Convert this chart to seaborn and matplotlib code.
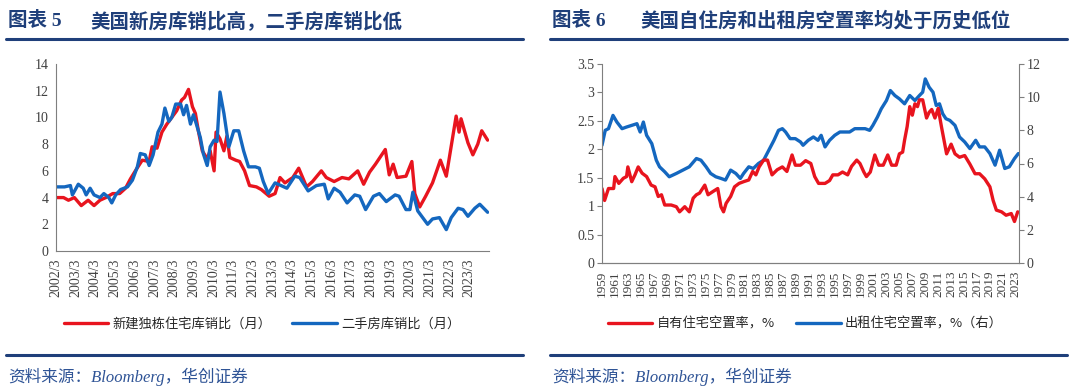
import matplotlib
matplotlib.use('Agg')
import matplotlib.pyplot as plt
import seaborn as sns
from matplotlib.lines import Line2D

# ---- left chart: months of supply (decimal year, value) ----
new_home_t = [2002.17, 2002.55, 2002.8, 2003.1, 2003.45, 2003.8, 2004.1, 2004.4, 2004.7, 2005.05,
              2005.4, 2005.7, 2005.95, 2006.2, 2006.55, 2006.9, 2007.05, 2007.3, 2007.55, 2007.8,
              2008.05, 2008.3, 2008.55, 2008.7, 2008.9, 2009.1, 2009.25, 2009.4, 2009.6, 2009.85,
              2010.0, 2010.2, 2010.3, 2010.5, 2010.7, 2010.85, 2011.0, 2011.3, 2011.5, 2011.75,
              2012.0, 2012.35, 2012.6, 2013.0, 2013.3, 2013.55, 2013.8, 2014.2, 2014.5, 2014.9,
              2015.2, 2015.65, 2015.9, 2016.3, 2016.7, 2017.05, 2017.5, 2017.8, 2018.1, 2018.4,
              2018.9, 2019.1, 2019.3, 2019.5, 2019.95, 2020.25, 2020.4, 2020.65, 2020.95, 2021.3,
              2021.7, 2022.0, 2022.3, 2022.5, 2022.65, 2022.75, 2023.1, 2023.35, 2023.6, 2023.8,
              2024.1]
new_home_v = [4.0, 4.0, 3.8, 4.0, 3.4, 3.8, 3.4, 3.8, 4.0, 4.3,
              4.3, 4.7, 5.4, 6.0, 6.8, 6.7, 7.8, 7.7, 8.9, 9.5,
              10.0, 10.5, 11.3, 11.5, 12.1, 10.8, 10.3, 9.0, 7.5, 6.9,
              7.5, 6.0, 8.9, 8.4, 7.5, 8.6, 7.0, 6.8, 6.7, 6.0,
              4.9, 4.8, 4.6, 4.1, 4.3, 5.5, 5.1, 5.5, 6.2, 4.8,
              5.2, 6.0, 5.5, 5.2, 5.5, 5.4, 6.0, 5.0, 5.9, 6.5,
              7.6, 5.7, 6.5, 5.5, 5.6, 6.7, 4.3, 3.3, 4.1, 5.1,
              6.8, 5.6, 8.3, 10.1, 8.9, 9.9, 8.1, 7.2, 8.0, 9.0,
              8.3]

existing_t = [2002.17, 2002.6, 2002.9, 2003.0, 2003.3, 2003.55, 2003.7, 2003.9, 2004.1, 2004.4,
              2004.6, 2004.85, 2005.0, 2005.2, 2005.45, 2005.8, 2006.05, 2006.3, 2006.45, 2006.7,
              2006.9, 2007.1, 2007.35, 2007.55, 2007.7, 2007.9, 2008.05, 2008.25, 2008.5, 2008.65,
              2008.8, 2009.0, 2009.15, 2009.3, 2009.5, 2009.65, 2009.85, 2010.0, 2010.2, 2010.35,
              2010.5, 2010.7, 2010.95, 2011.2, 2011.45, 2011.7, 2011.95, 2012.3, 2012.5, 2012.7,
              2012.95, 2013.3, 2013.9, 2014.3, 2014.55, 2014.98, 2015.4, 2015.8, 2016.0, 2016.3,
              2016.6, 2016.96, 2017.35, 2017.6, 2017.9, 2018.3, 2018.6, 2018.95, 2019.4, 2019.6,
              2019.95, 2020.15, 2020.3, 2020.55, 2020.8, 2021.05, 2021.3, 2021.65, 2022.0, 2022.25,
              2022.6, 2022.85, 2023.1, 2023.45, 2023.7, 2024.1]
existing_v = [4.8, 4.8, 4.9, 4.2, 5.0, 4.7, 4.2, 4.7, 4.2, 4.0,
              4.3, 4.0, 3.6, 4.2, 4.6, 4.8, 5.3, 6.3, 7.3, 7.2,
              6.4, 7.2, 8.9, 9.5, 10.7, 9.7, 10.0, 11.0, 11.0, 10.2,
              10.9, 9.5, 10.2, 9.5, 8.5, 7.3, 6.4, 7.8, 8.3, 8.2,
              11.9, 10.3, 7.8, 9.0, 9.0, 7.5, 6.3, 6.3, 6.2, 5.2,
              4.3, 5.1, 4.7, 5.6, 5.5, 4.5, 4.9, 5.0, 3.9, 4.7,
              4.4, 3.6, 4.2, 4.1, 3.1, 4.1, 4.3, 3.7, 4.2, 4.1,
              3.1, 3.1, 4.4, 3.0, 2.5, 2.0, 2.4, 2.5, 1.6, 2.5,
              3.2, 3.1, 2.6, 3.2, 3.5, 2.9]

# ---- right chart: vacancy rates (%) ----
owner_t = [1959.0, 1959.4, 1960.0, 1960.8, 1961.0, 1961.6, 1962.3, 1962.8, 1963.0, 1963.6,
           1964.1, 1964.6, 1965.2, 1965.9, 1966.6, 1967.2, 1967.7, 1968.2, 1968.7, 1969.7,
           1970.5, 1971.0, 1971.8, 1972.5, 1973.1, 1973.6, 1974.1, 1974.9, 1975.4, 1976.2,
           1976.9, 1977.4, 1977.8, 1978.2, 1978.9, 1979.5, 1980.2, 1980.9, 1981.7, 1982.3,
           1982.8, 1983.3, 1984.0, 1984.6, 1985.3, 1986.1, 1986.9, 1987.6, 1988.4, 1988.9,
           1989.7, 1990.5, 1991.3, 1991.9, 1992.5, 1993.5, 1994.2, 1994.7, 1995.5, 1996.2,
           1997.0, 1997.6, 1998.4, 1998.9, 1999.5, 1999.9, 2000.5, 2001.2, 2001.8, 2002.5,
           2003.2, 2003.8, 2004.5, 2005.0, 2005.5, 2005.8, 2006.2, 2006.6, 2007.0, 2007.4,
           2007.8, 2008.1, 2008.6, 2009.2, 2009.6, 2010.0, 2010.5, 2011.0, 2011.5, 2012.0,
           2012.3, 2013.0, 2013.6, 2014.3, 2015.1, 2015.9, 2016.7, 2017.4, 2018.2, 2019.0,
           2019.5, 2020.0, 2020.8, 2021.5, 2022.3, 2022.8, 2023.3]
owner_v = [1.31, 1.10, 1.31, 1.31, 1.52, 1.40, 1.49, 1.52, 1.69, 1.43,
           1.55, 1.69, 1.58, 1.52, 1.37, 1.34, 1.17, 1.20, 1.02, 1.02,
           0.99, 0.90, 0.99, 0.90, 1.14, 1.20, 1.23, 1.37, 1.20, 1.26,
           1.31, 0.99, 0.90, 1.05, 1.17, 1.34, 1.40, 1.43, 1.46, 1.61,
           1.55, 1.69, 1.81, 1.81, 1.55, 1.64, 1.69, 1.61, 1.90, 1.72,
           1.72, 1.80, 1.75, 1.52, 1.40, 1.40, 1.45, 1.55, 1.55, 1.60,
           1.55, 1.70, 1.81, 1.75, 1.60, 1.52, 1.60, 1.90, 1.72, 1.72,
           1.90, 1.72, 1.72, 1.92, 1.95, 2.16, 2.40, 2.75, 2.60, 2.80,
           2.75, 2.87, 2.87, 2.55, 2.65, 2.70, 2.55, 2.72, 2.40, 2.10,
           1.92, 2.09, 1.92, 1.86, 1.89, 1.74, 1.57, 1.57, 1.48, 1.34,
           1.10, 0.93, 0.90, 0.84, 0.87, 0.73, 0.90]

rental_t = [1959.0, 1959.5, 1960.0, 1960.7, 1961.3, 1962.1, 1962.8, 1963.6, 1964.4, 1964.9,
            1965.4, 1965.9, 1966.7, 1967.4, 1967.9, 1968.7, 1969.4, 1970.5, 1971.5, 1972.5,
            1973.6, 1974.3, 1975.1, 1975.8, 1976.6, 1977.4, 1978.1, 1978.9, 1979.7, 1980.4,
            1980.9, 1981.7, 1982.4, 1983.2, 1984.0, 1984.8, 1985.6, 1986.3, 1986.9, 1987.4,
            1988.1, 1988.9, 1989.7, 1990.1, 1990.9, 1991.7, 1992.4, 1992.9, 1993.5, 1994.2,
            1995.0, 1995.8, 1996.6, 1997.3, 1998.1, 1998.9, 1999.7, 2000.4, 2000.9, 2001.6,
            2002.2, 2003.0, 2003.6, 2004.3, 2005.0, 2005.8, 2006.6, 2007.4, 2008.1, 2008.6,
            2009.0, 2009.6, 2010.2, 2010.7, 2011.2, 2011.7, 2012.2, 2012.8, 2013.6, 2014.3,
            2015.1, 2015.9, 2016.8, 2017.4, 2018.2, 2019.0, 2019.8, 2020.5, 2021.3, 2022.0,
            2022.8, 2023.4]
rental_v = [7.1, 8.0, 8.1, 8.9, 8.5, 8.1, 8.2, 8.3, 8.4, 7.9,
            8.5, 7.7, 7.2, 6.2, 5.8, 5.5, 5.2, 5.4, 5.6, 5.8,
            6.3, 6.2, 5.8, 5.4, 5.2, 5.1, 5.0, 5.6, 5.4, 5.1,
            5.4, 5.8, 5.7, 6.0, 6.2, 6.8, 7.4, 8.0, 8.1, 7.9,
            7.5, 7.5, 7.3, 7.1, 7.4, 7.6, 7.4, 7.7, 7.0, 7.4,
            7.7, 7.9, 7.9, 7.9, 8.1, 8.1, 8.1, 8.0, 8.3, 8.8,
            9.3, 9.8, 10.4, 10.1, 9.9, 9.6, 10.1, 9.8, 10.1, 10.3,
            11.1, 10.6, 10.3, 9.5, 9.6, 9.0, 8.7, 8.6, 8.3, 7.6,
            7.3, 6.9, 7.4, 7.0, 7.0, 6.6, 5.9, 6.8, 5.7, 5.8,
            6.3, 6.6]

left_ticks = list(range(2002, 2024))
right_ticks = list(range(1959, 2024, 2))

RED = '#E8141E'
BLUE = '#1467BF'
NAVY = '#1F3F7A'
AXIS = '#7F7F7F'
TXT = '#404040'

sns.set_theme(style='white')
plt.rcParams['font.family'] = ['Liberation Serif', 'Noto Sans CJK SC', 'DejaVu Sans']
plt.rcParams['axes.edgecolor'] = AXIS
plt.rcParams['xtick.color'] = AXIS
plt.rcParams['ytick.color'] = AXIS
plt.rcParams['xtick.labelcolor'] = TXT
plt.rcParams['ytick.labelcolor'] = TXT

CJK = ['Noto Sans CJK SC', 'DejaVu Sans']
MIX = ['Liberation Serif', 'Noto Sans CJK SC']

fig = plt.figure(figsize=(10.8, 3.91), dpi=100)
W, H = 1080, 391


def box(x0, y0, x1, y1):
    return [x0 / W, 1 - y1 / H, (x1 - x0) / W, (y1 - y0) / H]


def style_axis(ax, size=10):
    ax.tick_params(axis='both', which='both', direction='out', length=3.5, width=0.8,
                   labelsize=size, pad=2)
    for s in ax.spines.values():
        s.set_linewidth(0.8)


# ---- left chart ----
ax1 = fig.add_axes(box(56, 64, 489, 251))
sns.lineplot(x=new_home_t, y=new_home_v, ax=ax1, color=RED, linewidth=2.4,
             label='新建独栋住宅库销比（月）')
sns.lineplot(x=existing_t, y=existing_v, ax=ax1, color=BLUE, linewidth=2.4,
             label='二手房库销比（月）')
ax1.set_xlim(2002 + 2 / 12, 2024.17)
ax1.set_ylim(0, 14)
ax1.set_yticks(range(0, 15, 2))
ax1.set_xticks([y + 2 / 12 for y in left_ticks])
ax1.set_xticklabels([f'{y}/3' for y in left_ticks], rotation=90)
ax1.spines['top'].set_visible(False)
ax1.spines['right'].set_visible(False)
ax1.set_xlabel('')
ax1.set_ylabel('')
style_axis(ax1)
ax1.legend(loc='center', bbox_to_anchor=(262 / W, 1 - 324 / H), bbox_transform=fig.transFigure,
           ncol=2, frameon=False, handlelength=3.4, columnspacing=1.6, handletextpad=0.3,
           prop={'family': CJK, 'size': 9.5})

# ---- right chart ----
ax2 = fig.add_axes(box(602, 64, 1019, 263))
ax2r = ax2.twinx()
sns.lineplot(x=rental_t, y=rental_v, ax=ax2r, color=BLUE, linewidth=2.4)
sns.lineplot(x=owner_t, y=owner_v, ax=ax2, color=RED, linewidth=2.4)
ax2.set_zorder(ax2r.get_zorder() + 1)
ax2.patch.set_visible(False)
ax2.set_xlim(1959, 2023.5)
ax2.set_ylim(0, 3.5)
ax2r.set_ylim(0, 12)
ax2.set_yticks([0, 0.5, 1, 1.5, 2, 2.5, 3, 3.5])
ax2.set_yticklabels(['0', '0.5', '1', '1.5', '2', '2.5', '3', '3.5'])
ax2r.set_yticks(range(0, 13, 2))
ax2.set_xticks(right_ticks)
ax2.set_xticklabels([str(y) for y in right_ticks], rotation=90)
for a in (ax2, ax2r):
    a.spines['top'].set_visible(False)
    a.set_xlabel('')
    a.set_ylabel('')
    style_axis(a)
ax2.tick_params(axis='x', labelsize=9.5)
ax2.spines['right'].set_visible(False)
ax2r.spines['left'].set_visible(False)
ax2r.grid(False)
ax2.grid(False)
handles = [Line2D([], [], color=RED, linewidth=2.4), Line2D([], [], color=BLUE, linewidth=2.4)]
ax2.legend(handles, ['自有住宅空置率，%', '出租住宅空置率，%（右）'], loc='center',
           bbox_to_anchor=(805 / W, 1 - 324 / H), bbox_transform=fig.transFigure,
           ncol=2, frameon=False, handlelength=3.4, columnspacing=1.6, handletextpad=0.3,
           prop={'family': CJK, 'size': 9.5})

# ---- titles, rules and sources ----
for x0, x1, num, title, tx in [(6, 523, '图表 5', '美国新房库销比高，二手房库销比低', 90),
                              (550, 1067, '图表 6', '美国自住房和出租房空置率均处于历史低位', 640)]:
    fig.text((x0 + 2) / W, 1 - 21 / H, num, family=MIX, fontsize=14, fontweight='bold',
             color=NAVY, va='center')
    fig.text(tx / W, 1 - 21 / H, title, family=CJK, fontsize=14, fontweight='bold',
             color=NAVY, va='center')
    for yy in (39, 355):
        fig.add_artist(Line2D([x0 / W, x1 / W], [1 - yy / H] * 2, color=NAVY, linewidth=2.2))
    fig.text((x0 + 2) / W, 1 - 377 / H, '资料来源：Bloomberg，华创证券', family=MIX,
             style='italic', fontsize=12, color='#2F5496', va='center')

fig.savefig('out.png', dpi=100)
